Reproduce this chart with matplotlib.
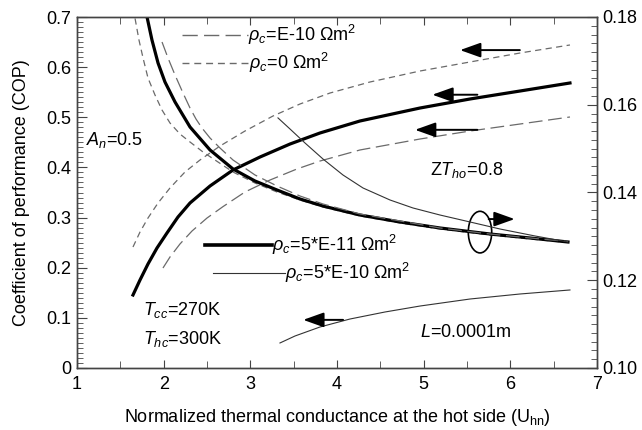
import matplotlib
matplotlib.use("Agg")
import matplotlib.pyplot as plt
from matplotlib.patches import Ellipse
from matplotlib.ticker import MultipleLocator, FixedLocator

plt.rcParams['font.family'] = ['Liberation Sans', 'DejaVu Sans']
plt.rcParams['mathtext.fontset'] = 'custom'
plt.rcParams['mathtext.rm'] = 'Liberation Sans'
plt.rcParams['mathtext.it'] = 'Liberation Sans:italic'
plt.rcParams['mathtext.default'] = 'it'

# ---- COP curves (left axis) ----
cop_r0_x = [1.646, 1.727, 1.819, 1.935, 2.073, 2.246, 2.419, 2.650, 2.938, 3.262,
            3.573, 3.919, 4.381, 4.958, 5.535, 6.112, 6.688]
cop_r0_y = [0.2413, 0.2712, 0.2991, 0.3291, 0.3590, 0.3909, 0.4148, 0.4427, 0.4726,
            0.5026, 0.5265, 0.5484, 0.5704, 0.5923, 0.6103, 0.6282, 0.6442]

cop_r5e11_x = [1.646, 1.727, 1.819, 1.923, 2.038, 2.165, 2.304, 2.535, 2.800, 3.112,
               3.458, 3.804, 4.265, 4.958, 5.535, 6.112, 6.688]
cop_r5e11_y = [0.1456, 0.1755, 0.2074, 0.2393, 0.2692, 0.3011, 0.3291, 0.3630, 0.3949,
               0.4208, 0.4467, 0.4687, 0.4926, 0.5185, 0.5365, 0.5524, 0.5684]

cop_r1e10_x = [1.992, 2.073, 2.188, 2.327, 2.500, 2.685, 2.938, 3.227, 3.538, 3.804,
               4.265, 4.958, 5.535, 6.112, 6.688]
cop_r1e10_y = [0.1994, 0.2214, 0.2473, 0.2732, 0.2991, 0.3219, 0.3510, 0.3749, 0.3969,
               0.4128, 0.4348, 0.4567, 0.4726, 0.4866, 0.5006]

cop_r5e10_x = [3.342, 3.515, 3.804, 4.150, 4.554, 4.958, 5.535, 6.112, 6.688]
cop_r5e10_y = [0.0499, 0.0638, 0.0818, 0.0977, 0.1117, 0.1236, 0.1376, 0.1476, 0.1556]

# ---- decreasing curves (right axis) ----
q_r0_x = [1.646, 1.669, 1.715, 1.762, 1.819, 1.900, 1.981, 2.073, 2.188, 2.304, 2.454,
          2.627, 2.800, 3.054, 3.308, 3.573, 3.838, 4.265, 4.727, 5.188, 5.765, 6.227, 6.665]
q_r0_y = [0.18205, 0.17977, 0.17476, 0.17066, 0.16610, 0.16222, 0.15880, 0.15584, 0.15333,
          0.15151, 0.14923, 0.14695, 0.14467, 0.14216, 0.14011, 0.13829, 0.13670, 0.13465,
          0.13305, 0.13168, 0.13031, 0.12940, 0.12860]

q_r5e11_x = [1.796, 1.808, 1.865, 1.935, 2.015, 2.131, 2.304, 2.535, 2.800, 3.054, 3.308,
             3.573, 3.838, 4.265, 4.727, 5.188, 5.765, 6.227, 6.665]
q_r5e11_y = [0.18160, 0.18000, 0.17476, 0.16952, 0.16519, 0.16063, 0.15493, 0.14969,
             0.14536, 0.14262, 0.14057, 0.13852, 0.13692, 0.13487, 0.13328, 0.13191,
             0.13054, 0.12963, 0.12872]

q_r1e10_x = [1.981, 2.050, 2.131, 2.223, 2.304, 2.373, 2.442, 2.535, 2.650, 2.800, 3.054,
             3.308, 3.573, 3.838, 4.265, 4.727, 5.188, 5.765, 6.227, 6.665]
q_r1e10_y = [0.17430, 0.17066, 0.16678, 0.16268, 0.15926, 0.15675, 0.15470, 0.15242,
             0.15014, 0.14741, 0.14399, 0.14148, 0.13920, 0.13738, 0.13510, 0.13351,
             0.13191, 0.13054, 0.12963, 0.12883]

q_r5e10_x = [3.319, 3.458, 3.631, 3.838, 4.069, 4.300, 4.612, 4.877, 5.188, 5.535,
             5.881, 6.285, 6.665]
q_r5e10_y = [0.15700, 0.15447, 0.15128, 0.14764, 0.14399, 0.14103, 0.13829, 0.13647,
             0.13487, 0.13328, 0.13168, 0.13009, 0.12872]

x_ticks = [1, 2, 3, 4, 5, 6, 7]
y_left_ticks = [0, 0.1, 0.2, 0.3, 0.4, 0.5, 0.6, 0.7]
y_left_labels = ['0', '0.1', '0.2', '0.3', '0.4', '0.5', '0.6', '0.7']
y_right_ticks = [0.10, 0.12, 0.14, 0.16, 0.18]
y_right_labels = ['0.10', '0.12', '0.14', '0.16', '0.18']

GRAY = '#6a6a6a'
FS = 13

fig = plt.figure(figsize=(6.42, 4.30), dpi=100)
ax = fig.add_axes([77/642, 1-368/430, (597-77)/642, (368-17)/430])
ax2 = ax.twinx()

ls_r0 = (0, (5, 3.5))
ls_r1e10 = (0, (11, 4.5))

ax.plot(cop_r0_x, cop_r0_y, color=GRAY, lw=0.9, linestyle=ls_r0)
ax.plot(cop_r5e11_x, cop_r5e11_y, color='black', lw=2.3, solid_joinstyle='round')
ax.plot(cop_r1e10_x, cop_r1e10_y, color=GRAY, lw=0.9, linestyle=ls_r1e10)
ax.plot(cop_r5e10_x, cop_r5e10_y, color='#333333', lw=0.8)

ax2.plot(q_r0_x, q_r0_y, color=GRAY, lw=0.9, linestyle=ls_r0)
ax2.plot(q_r5e11_x, q_r5e11_y, color='black', lw=2.3, solid_joinstyle='round')
ax2.plot(q_r1e10_x, q_r1e10_y, color=GRAY, lw=0.9, linestyle=ls_r1e10)
ax2.plot(q_r5e10_x, q_r5e10_y, color='#333333', lw=0.8)

ax.set_xlim(1, 7)
ax.set_ylim(0, 0.7)
ax2.set_ylim(0.10, 0.18)

ax.xaxis.set_major_locator(FixedLocator(x_ticks))
ax.xaxis.set_minor_locator(MultipleLocator(0.5))
ax.set_yticks(y_left_ticks)
ax.set_yticklabels(y_left_labels)
ax.yaxis.set_minor_locator(MultipleLocator(0.01))
ax2.set_yticks(y_right_ticks)
ax2.set_yticklabels(y_right_labels)
ax2.yaxis.set_minor_locator(MultipleLocator(0.002))

for a in (ax, ax2):
    for s in a.spines.values():
        s.set_color('#444444')
        s.set_linewidth(1.0)

ax.tick_params(axis='x', which='both', direction='in', top=True, bottom=True,
               labelsize=FS, pad=6, color='#444444')
ax.tick_params(axis='x', which='major', length=6)
ax.tick_params(axis='x', which='minor', length=5)
ax.tick_params(axis='y', which='major', direction='in', length=7, labelsize=FS,
               color='#444444', pad=4)
ax.tick_params(axis='y', which='minor', direction='in', length=4, color='#444444')
ax2.tick_params(axis='y', which='major', direction='in', length=7, labelsize=FS,
                color='#444444', pad=4)
ax2.tick_params(axis='y', which='minor', direction='in', length=4, color='#444444')

ax.set_xlabel('Normalized thermal conductance at the hot side (U$_{\\mathrm{hn}}$)',
              fontsize=FS, labelpad=10)
ax.set_ylabel('Coefficient of performance (COP)', fontsize=FS, labelpad=12)

# legend-like labels drawn inside the plot
def leg(x0, x1, y, text, **kw):
    ax.plot([x0, x1], [y, y], **kw)
    ax.text(x1, y, text, fontsize=FS, va='center', ha='left')

leg(2.21, 2.97, 0.664, r'$\rho_c$=E-10 $\Omega$m$^2$', color=GRAY, lw=1.0, linestyle=ls_r1e10)
leg(2.21, 2.99, 0.608, r'$\rho_c$=0 $\Omega$m$^2$', color=GRAY, lw=1.0, linestyle=ls_r0)
leg(2.48, 3.25, 0.245, r'$\rho_c$=5*E-11 $\Omega$m$^2$', color='black', lw=2.6)
leg(2.57, 3.40, 0.19, r'$\rho_c$=5*E-10 $\Omega$m$^2$', color='#333333', lw=0.8)

ax.text(1.10, 0.455, r'$A_n$=0.5', fontsize=FS, va='center', ha='left')
ax.text(5.07, 0.395, r'Z$T_{ho}$=0.8', fontsize=FS, va='center', ha='left')
ax.text(1.76, 0.116, r'$T_{cc}$=270K', fontsize=FS, va='center', ha='left')
ax.text(1.76, 0.058, r'$T_{hc}$=300K', fontsize=FS, va='center', ha='left')
ax.text(4.96, 0.07, r'$L$=0.0001m', fontsize=FS, va='center', ha='left')

aprops = dict(arrowstyle='-|>,head_length=0.7,head_width=0.25', color='black',
              lw=1.4, mutation_scale=18, shrinkA=0, shrinkB=0)
for (tx, hx, yy) in [(6.11, 5.42, 0.634), (5.62, 5.10, 0.545),
                     (5.62, 4.90, 0.475), (4.07, 3.61, 0.096), (5.75, 6.05, 0.297)]:
    ax.annotate('', xy=(hx, yy), xytext=(tx, yy), arrowprops=aprops)

ax.add_patch(Ellipse((5.65, 0.271), 0.27, 0.083, fill=False, lw=1.2, color='black'))

fig.savefig('out.png', dpi=100)
